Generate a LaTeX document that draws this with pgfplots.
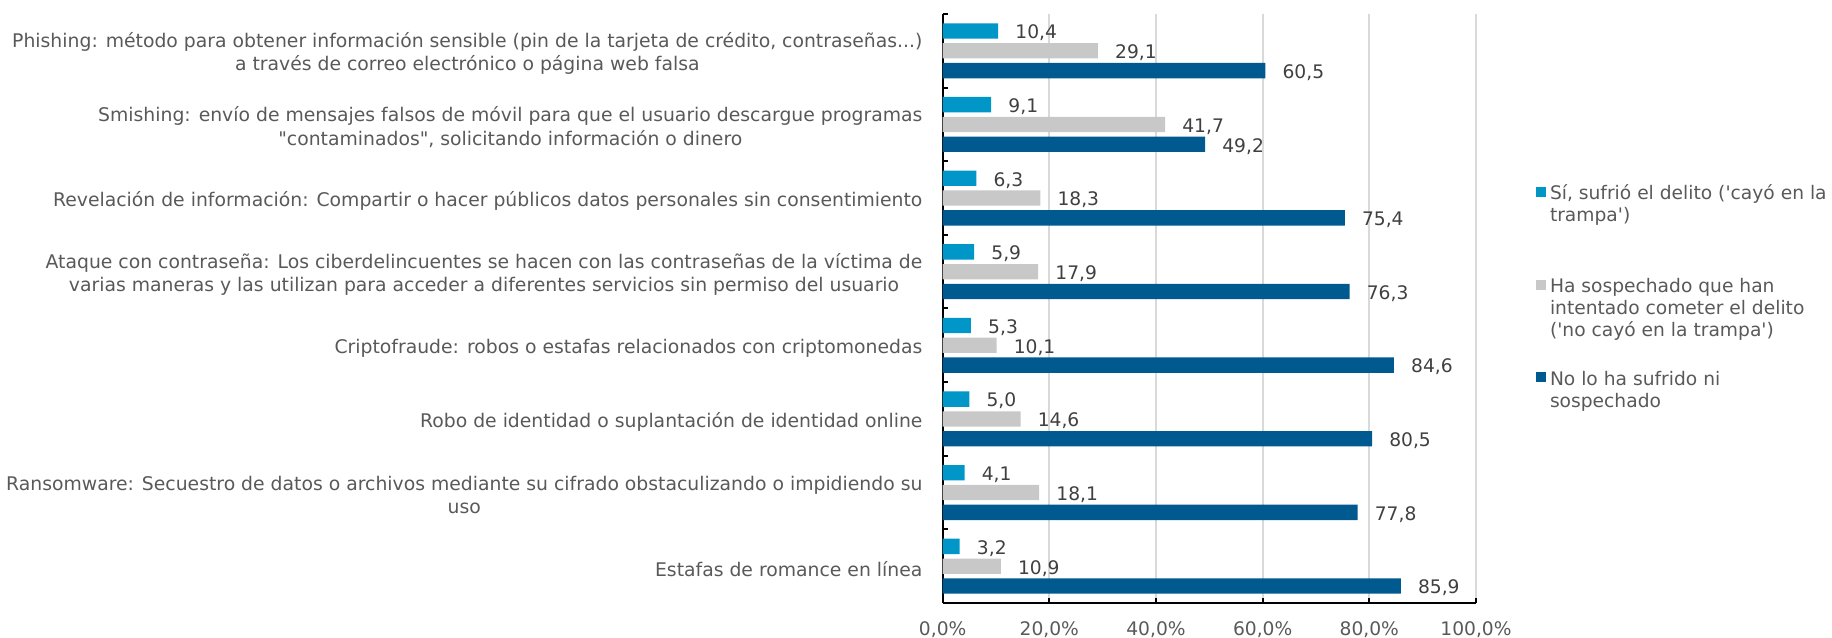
\documentclass[border=0pt]{standalone}
\usepackage{fontspec}
\setmainfont{DejaVu Sans}[Ligatures=TeXOff]
\usepackage{pgfplots}
\pgfplotsset{compat=1.18}
\definecolor{cLight}{HTML}{0096C8}
\definecolor{cGrey}{HTML}{C8C8C8}
\definecolor{cDark}{HTML}{005A8F}
\definecolor{cText}{HTML}{595959}
\definecolor{cLabel}{HTML}{404040}
\definecolor{cGrid}{HTML}{D9D9D9}
\newcommand{\fs}{\fontsize{14pt}{16.5pt}\selectfont}
\newcommand{\fc}{\fontsize{14.1pt}{17.5pt}\selectfont}
\newcommand{\threedots}{.\relax.\relax.}
\begin{document}
\begin{tikzpicture}
\path[use as bounding box] (0,0) rectangle (1374pt,478.5pt);
\begin{axis}[
  at={(707pt,26.25pt)}, anchor=south west,
  scale only axis, width=400pt, height=441.75pt,
  xbar, bar width=11.5pt,
  xmin=0, xmax=100, ymin=-0.5, ymax=7.5,
  clip=false,
  axis lines*=left,
  axis line style={black, line width=1.5pt},
  tick align=inside,
  major tick length=3.75pt,
  tick style={black, line width=1.5pt},
  xtick={0,20,40,60,80,100},
  xticklabels={{0,0\%},{20,0\%},{40,0\%},{60,0\%},{80,0\%},{100,0\%}},
  xticklabel style={font=\fs, text=cText, anchor=base, inner sep=0pt, yshift=-24.25pt},
  xmajorgrids, grid style={cGrid, line width=1.5pt},
  ytick={-0.5,0.5,1.5,2.5,3.5,4.5,5.5,6.5,7.5}, yticklabels={},
  extra y ticks={0,1,2,3,4,5,6,7},
  extra y tick style={major tick length=0pt, tick style={draw=none}},
  extra y tick labels={
    {Estafas de romance en línea},
    {Ransomware: Secuestro de datos o archivos mediante su cifrado obstaculizando o impidiendo su\\uso},
    {Robo de identidad o suplantación de identidad online},
    {Criptofraude: robos o estafas relacionados con criptomonedas},
    {Ataque con contraseña: Los ciberdelincuentes se hacen con las contraseñas de la víctima de\\varias maneras y las utilizan para acceder a diferentes servicios sin permiso del usuario},
    {Revelación de información: Compartir o hacer públicos datos personales sin consentimiento},
    {Smishing: envío de mensajes falsos de móvil para que el usuario descargue programas\\"contaminados", solicitando información o dinero},
    {Phishing: método para obtener información sensible (pin de la tarjeta de crédito, contraseñas\threedots)\\a través de correo electrónico o página web falsa}},
  yticklabel style={font=\fc, text=cText, align=center, anchor=east, inner sep=0pt, xshift=-15pt, yshift=-2pt},
  point meta=x,
  nodes near coords,
  nodes near coords style={font=\fs, text=cLabel, anchor=west, inner sep=0pt, xshift=12.75pt, yshift=-1.5pt},
  /pgf/number format/fixed,
  /pgf/number format/fixed zerofill,
  /pgf/number format/precision=1,
  /pgf/number format/use comma,
  /pgf/number format/assume math mode=true,
  legend image code/.code={\path[draw=none, fill=none] (0pt,0pt) rectangle (0.01pt,-50pt); \fill[#1, draw=none] (0pt,-9.3pt) rectangle (7.5pt,-2pt);},
  legend style={at={(1.1125,0.7104)}, anchor=north west, draw=none, fill=none,
    inner sep=0pt, outer sep=0pt, row sep=19.4pt, column sep=3pt,
    font=\fs, text=cText, nodes={inner sep=0pt, align=left},
    cells={anchor=north west}},
]
\addplot[fill=cLight, draw=none, bar shift=14.85pt] coordinates {
  (3.2,0) (4.1,1) (5.0,2) (5.3,3) (5.9,4) (6.3,5) (9.1,6) (10.4,7)};
\addlegendentry{\strut Sí, sufrió el delito ('cayó en la\\trampa')\strut}
\addplot[fill=cGrey, draw=none, bar shift=0pt] coordinates {
  (10.9,0) (18.1,1) (14.6,2) (10.1,3) (17.9,4) (18.3,5) (41.7,6) (29.1,7)};
\addlegendentry{\strut Ha sospechado que han\\intentado cometer el delito\\('no cayó en la trampa')\strut}
\addplot[fill=cDark, draw=none, bar shift=-14.85pt] coordinates {
  (85.9,0) (77.8,1) (80.5,2) (84.6,3) (76.3,4) (75.4,5) (49.2,6) (60.5,7)};
\addlegendentry{\strut No lo ha sufrido ni\\sospechado\strut}
\end{axis}
\end{tikzpicture}
\end{document}
